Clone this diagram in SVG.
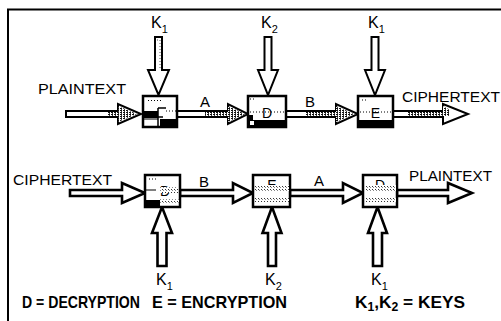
<svg xmlns="http://www.w3.org/2000/svg" width="501" height="321" viewBox="0 0 501 321">
<defs>
<pattern id="hatch" width="3" height="2" patternUnits="userSpaceOnUse">
<rect width="3" height="2" fill="#fff"/>
<rect width="2" height="1" fill="#111"/>
<rect x="1" y="1" width="1" height="1" fill="#444"/>
</pattern>
<pattern id="dots" width="3" height="3" patternUnits="userSpaceOnUse">
<rect width="3" height="3" fill="#fff"/>
<rect width="1" height="1" fill="#333"/>
<rect x="1" y="1" width="1" height="1" fill="#888"/>
</pattern>
</defs>
<style>
.lbl{font-family:"Liberation Sans",Arial,sans-serif;font-size:15px;fill:#000}
.k{font-family:"Liberation Sans",Arial,sans-serif;font-size:16px;fill:#000}
.sub{font-size:11px}
.leg{font-family:"Liberation Sans",Arial,sans-serif;font-size:17px;font-weight:bold;fill:#000}
.arr{fill:#fff;stroke:#000;stroke-width:2;stroke-linejoin:miter}
.arr2{fill:#fff;stroke:#000;stroke-width:2.6;stroke-linejoin:miter}
.box{fill:#fff;stroke:#000;stroke-width:2.5}
.blk{fill:#000}
.dl{stroke:#000;stroke-width:1;stroke-dasharray:1 2;fill:none}
.letter{font-family:"Liberation Sans",Arial,sans-serif;font-size:14px;fill:#000}
</style>
<rect width="501" height="321" fill="#fff"/>
<path d="M8 321V9.5H501" fill="none" stroke="#000" stroke-width="2"/>

<g id="connectors">
<path class="arr" d="M66 111H118V104L141 114L118 124V117H66Z"/>
<path d="M108 112H118V106L137 114L118 122V116H108Z" fill="url(#hatch)"/>
<path class="arr" d="M177 111H228V104L248 114L228 124V117H177Z"/>
<path d="M205 112H228V106L245 114L228 122V116H205Z" fill="url(#hatch)"/>
<path class="arr" d="M286 111H336V104L358 114L336 124V117H286Z"/>
<path d="M306 112H336V106L354 114L336 122V116H306Z" fill="url(#hatch)"/>
<path class="arr" d="M393 111H443V104L468 114L443 124V117H393Z"/>
<path d="M407 112H443V106L450 110V116H407Z" fill="url(#hatch)"/>
<path class="arr" d="M155 37H162V70H169L158.5 95L148 70H155Z"/>
<path d="M157 40H160V70" fill="none" stroke="#555" stroke-width="1" stroke-dasharray="1 2"/>
<path class="arr" d="M264.5 37H271.5V70H278L268 95L258 70H264.5Z"/>
<path class="arr" d="M371.5 37H378.5V70H385L375 95L365 70H371.5Z"/>
<path class="arr2" d="M70 190H122V183L145 193L122 203V196H70Z"/>
<path class="arr2" d="M180 190H233V183L253 193L233 203V196H180Z"/>
<path class="arr2" d="M290 190H343V183L363 193L343 203V196H290Z"/>
<path class="arr2" d="M397 190H448V183L472 193L448 203V196H397Z"/>
<path class="arr2" d="M157.5 266V233H152L162 207L172 233H166.5V266Z"/>
<path class="arr2" d="M268 266V233H262.5L272 207L281.5 233H276V266Z"/>
<path class="arr2" d="M373 266V233H368L377.5 207L387 233H382V266Z"/>
</g>

<g id="node-e1">
<rect class="box" x="143" y="96" width="34" height="31"/>
<path class="dl" d="M148 100.5H162"/>
<rect class="blk" x="144" y="111" width="14" height="7"/>
<rect class="blk" x="160" y="119" width="17" height="8"/>
<path d="M158 108V126M158 108H166M158 117H163" fill="none" stroke="#000" stroke-width="1.5"/>
<path class="dl" d="M166 111H176"/>
<path d="M144 119H158" stroke="#000" stroke-width="1"/>
</g>

<g id="node-d1">
<rect class="box" x="248" y="96" width="38" height="31"/>
<text class="letter" x="267" y="118" text-anchor="middle">D</text>
<path class="dl" d="M250 112H285M250 99H254"/>
<rect class="blk" x="249" y="120" width="37" height="7"/>
<rect x="250" y="121" width="4" height="4" fill="#fff"/>
<rect class="blk" x="249" y="115" width="4" height="5"/>
</g>

<g id="node-e2">
<rect class="box" x="358" y="96" width="35" height="31"/>
<text class="letter" x="375.5" y="118" text-anchor="middle">E</text>
<path class="dl" d="M360 112H392M362 100H368"/>
<rect class="blk" x="359" y="120" width="34" height="7"/>
</g>

<g id="node-d2">
<rect class="box" x="145" y="175" width="35" height="32"/>
<path class="dl" d="M149 179H158"/>
<path d="M146 190H156" stroke="#000" stroke-width="1"/>
<text class="letter" x="165" y="196" text-anchor="middle">D</text>
<rect x="160" y="187" width="18" height="6" fill="url(#dots)"/>
<rect class="blk" x="146" y="200" width="14" height="7"/>
<rect x="160" y="199" width="19" height="4" fill="url(#dots)"/>
</g>

<g id="node-e3">
<rect class="box" x="253" y="175" width="37" height="32"/>
<text class="letter" x="272" y="190" text-anchor="middle">E</text>
<rect x="255" y="185" width="34" height="6" fill="url(#dots)"/>
<rect x="255" y="198" width="34" height="4" fill="url(#dots)"/>
</g>

<g id="node-d3">
<rect class="box" x="363" y="175" width="34" height="32"/>
<text class="letter" x="380" y="190" text-anchor="middle">D</text>
<rect x="365" y="185" width="31" height="6" fill="url(#dots)"/>
<rect x="365" y="198" width="31" height="4" fill="url(#dots)"/>
</g>

<g id="labels">
<text class="lbl" x="38" y="94" textLength="88" lengthAdjust="spacingAndGlyphs">PLAINTEXT</text>
<text class="lbl" x="200" y="107">A</text>
<text class="lbl" x="305" y="107">B</text>
<text class="lbl" x="402" y="102" textLength="98" lengthAdjust="spacingAndGlyphs">CIPHERTEXT</text>
<text class="lbl" x="13" y="185" textLength="99" lengthAdjust="spacingAndGlyphs">CIPHERTEXT</text>
<text class="lbl" x="199" y="187">B</text>
<text class="lbl" x="314" y="186">A</text>
<text class="lbl" x="409" y="181" textLength="83" lengthAdjust="spacingAndGlyphs">PLAINTEXT</text>

<text class="k" x="151" y="28">K<tspan class="sub" dy="5">1</tspan></text>
<text class="k" x="261" y="28">K<tspan class="sub" dy="5">2</tspan></text>
<text class="k" x="368" y="28">K<tspan class="sub" dy="5">1</tspan></text>
<text class="k" x="156" y="285">K<tspan class="sub" dy="5">1</tspan></text>
<text class="k" x="265" y="285">K<tspan class="sub" dy="5">2</tspan></text>
<text class="k" x="371" y="285">K<tspan class="sub" dy="5">1</tspan></text>

<text class="leg" x="22" y="308" textLength="118" lengthAdjust="spacingAndGlyphs">D = DECRYPTION</text>
<text class="leg" x="152" y="308" textLength="135" lengthAdjust="spacingAndGlyphs">E = ENCRYPTION</text>
<text class="leg" x="355" y="308" textLength="110" lengthAdjust="spacingAndGlyphs">K<tspan style="font-size:12px" dy="3">1</tspan><tspan dy="-3">,K</tspan><tspan style="font-size:12px" dy="3">2</tspan><tspan dy="-3"> = KEYS</tspan></text>
</g>
</svg>
